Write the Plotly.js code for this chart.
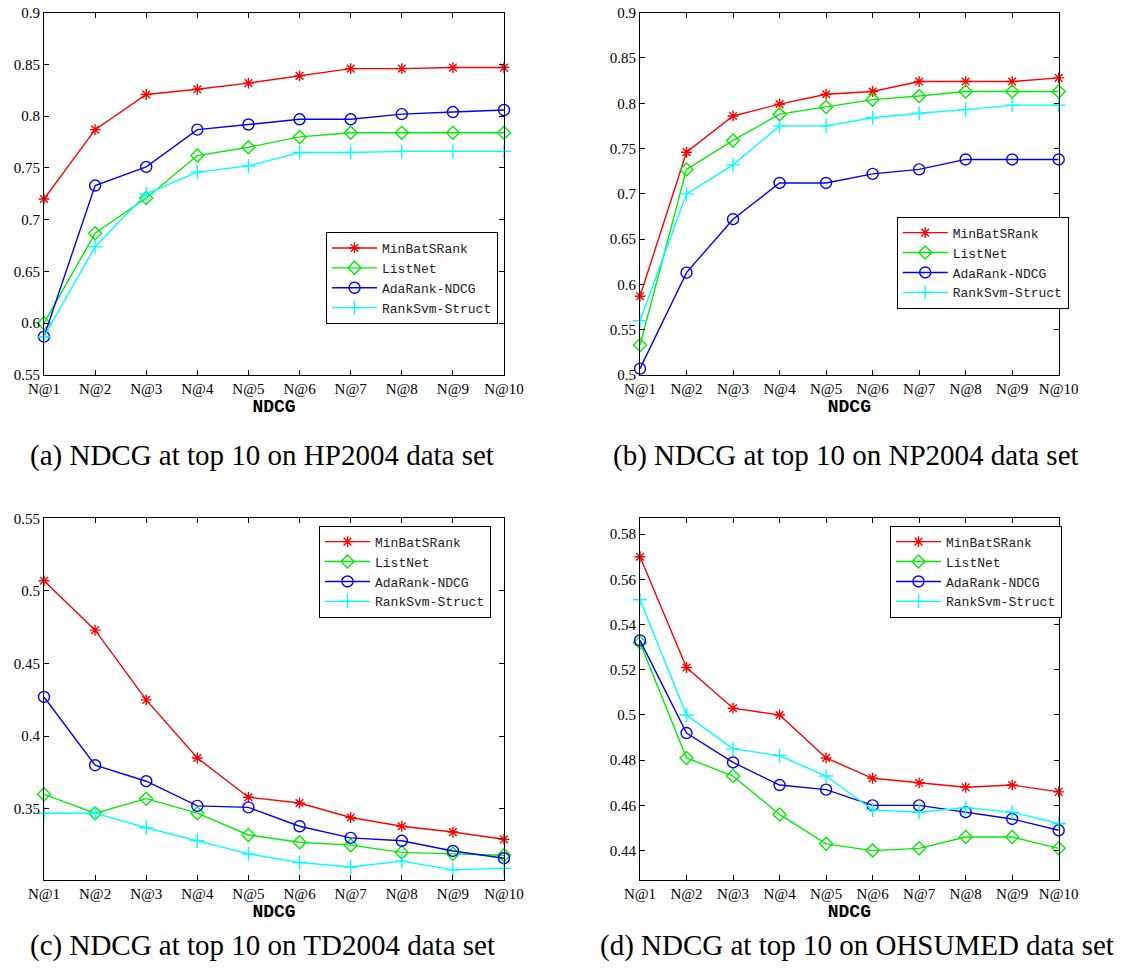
<!DOCTYPE html>
<html>
<head>
<meta charset="utf-8">
<script src="https://cdn.plot.ly/plotly-3.0.1.min.js"></script>
<style>html,body{margin:0;padding:0;background:#fff;}#chart{width:1134px;height:978px;}</style>
</head>
<body>
<div id="chart"></div>
<script>
// ---------- data ----------
const categories = ['N@1','N@2','N@3','N@4','N@5','N@6','N@7','N@8','N@9','N@10'];
const methods = ['MinBatSRank','ListNet','AdaRank-NDCG','RankSvm-Struct'];

// (a) HP2004
const hpMinBatSRank = [0.720,0.787,0.821,0.826,0.832,0.839,0.846,0.846,0.847,0.847];
const hpListNet     = [0.600,0.687,0.721,0.762,0.770,0.780,0.784,0.784,0.784,0.784];
const hpAdaRank     = [0.587,0.733,0.751,0.787,0.792,0.797,0.797,0.802,0.804,0.806];
const hpRankSvm     = [0.587,0.674,0.725,0.746,0.752,0.765,0.765,0.766,0.766,0.766];

// (b) NP2004
const npMinBatSRank = [0.587,0.746,0.786,0.799,0.810,0.813,0.824,0.824,0.824,0.828];
const npListNet     = [0.533,0.727,0.759,0.788,0.796,0.804,0.808,0.813,0.813,0.813];
const npAdaRank     = [0.507,0.613,0.672,0.712,0.712,0.722,0.727,0.738,0.738,0.738];
const npRankSvm     = [0.560,0.700,0.732,0.775,0.775,0.784,0.789,0.793,0.798,0.798];

// (c) TD2004
const tdMinBatSRank = [0.507,0.473,0.425,0.385,0.358,0.354,0.344,0.338,0.334,0.329];
const tdListNet     = [0.360,0.347,0.357,0.347,0.332,0.327,0.325,0.320,0.319,0.318];
const tdAdaRank     = [0.427,0.380,0.369,0.352,0.351,0.338,0.330,0.328,0.321,0.316];
const tdRankSvm     = [0.347,0.347,0.337,0.328,0.319,0.313,0.310,0.314,0.308,0.309];

// (d) OHSUMED
const ohMinBatSRank = [0.570,0.521,0.503,0.500,0.481,0.472,0.470,0.468,0.469,0.466];
const ohListNet     = [0.532,0.481,0.473,0.456,0.443,0.440,0.441,0.446,0.446,0.441];
const ohAdaRank     = [0.533,0.492,0.479,0.469,0.467,0.460,0.460,0.457,0.454,0.449];
const ohRankSvm     = [0.551,0.500,0.485,0.482,0.473,0.458,0.457,0.459,0.457,0.452];

// tick labels
const ticksA = [0.55,0.6,0.65,0.7,0.75,0.8,0.85,0.9];
const tickTextA = ['0.55','0.6','0.65','0.7','0.75','0.8','0.85','0.9'];
const ticksB = [0.5,0.55,0.6,0.65,0.7,0.75,0.8,0.85,0.9];
const tickTextB = ['0.5','0.55','0.6','0.65','0.7','0.75','0.8','0.85','0.9'];
const ticksC = [0.35,0.4,0.45,0.5,0.55];
const tickTextC = ['0.35','0.4','0.45','0.5','0.55'];
const ticksD = [0.44,0.46,0.48,0.5,0.52,0.54,0.56,0.58];
const tickTextD = ['0.44','0.46','0.48','0.5','0.52','0.54','0.56','0.58'];

const xTitle = 'NDCG';
const captions = [
  '(a) NDCG at top 10 on HP2004 data set',
  '(b) NDCG at top 10 on NP2004 data set',
  '(c) NDCG at top 10 on TD2004 data set',
  '(d) NDCG at top 10 on OHSUMED data set'
];

// ---------- styles ----------
const SERIF = 'Liberation Serif';
const MONO = 'Liberation Mono';
const styles = [
  {color:'#ff0000', symbol:'asterisk-open', size:9},
  {color:'#00ee00', symbol:'diamond-open', size:10},
  {color:'#0000ff', symbol:'circle-open', size:11},
  {color:'#00ffff', symbol:'cross-thin-open', size:10}
];

const panels = [
  {series:[hpMinBatSRank,hpListNet,hpAdaRank,hpRankSvm], xa:'x', ya:'y', legend:'legend'},
  {series:[npMinBatSRank,npListNet,npAdaRank,npRankSvm], xa:'x2', ya:'y2', legend:'legend2'},
  {series:[tdMinBatSRank,tdListNet,tdAdaRank,tdRankSvm], xa:'x3', ya:'y3', legend:'legend3'},
  {series:[ohMinBatSRank,ohListNet,ohAdaRank,ohRankSvm], xa:'x4', ya:'y4', legend:'legend4'}
];

const traces = [];
panels.forEach(p => {
  p.series.forEach((vals, i) => {
    const s = styles[i];
    traces.push({
      type:'scatter', mode:'lines+markers',
      x: categories, y: vals, name: methods[i],
      xaxis: p.xa, yaxis: p.ya, legend: p.legend,
      cliponaxis: false,
      line: {color: s.color, width: 1.4},
      marker: {symbol: s.symbol, size: s.size, color: s.color, line: {color: s.color, width: 1.4}}
    });
  });
});

const tickFont = {family: SERIF, size:15, color:'#000'};
function xAx(domain, anchor) {
  return {
    domain: domain, anchor: anchor, type:'category', range:[0,9],
    showline:true, linecolor:'#000', linewidth:1, mirror:'ticks',
    ticks:'inside', ticklen:5, tickcolor:'#000', showgrid:false, zeroline:false,
    tickfont: tickFont, automargin:false,
    title: {text: xTitle, standoff: 3, font:{family: MONO, size:18, color:'#000', weight:'bold'}}
  };
}
function yAx(domain, anchor, range, vals, text) {
  return {
    domain: domain, anchor: anchor, range: range,
    tickvals: vals, ticktext: text,
    showline:true, linecolor:'#000', linewidth:1, mirror:'ticks',
    ticks:'inside', ticklen:5, tickcolor:'#000', showgrid:false, zeroline:false,
    tickfont: tickFont, automargin:false
  };
}

const W = 1134, H = 978;
const dLeft = [44/W, 504/W], dRight = [640/W, 1058.7/W];
const dTop = [1-375/H, 1-12.7/H], dBot = [1-880/H, 1-518.3/H];

function leg(x, y) {
  return {
    x: x, y: y, xref:'paper', yref:'paper', xanchor:'left', yanchor:'top',
    bgcolor:'#fff', bordercolor:'#000', borderwidth:1,
    font:{family: MONO, size:13, color:'#222'},
    itemwidth: 45, tracegroupgap: 0
  };
}

const capFont = {family: SERIF, size:29, color:'#000'};
const layout = {
  width: W, height: H,
  margin: {l:0, r:0, t:0, b:0},
  paper_bgcolor:'#fff', plot_bgcolor:'#fff',
  showlegend: true,
  xaxis: xAx(dLeft, 'y'),
  yaxis: yAx(dTop, 'x', [0.55,0.9], ticksA, tickTextA),
  xaxis2: xAx(dRight, 'y2'),
  yaxis2: yAx(dTop, 'x2', [0.5,0.9], ticksB, tickTextB),
  xaxis3: xAx(dLeft, 'y3'),
  yaxis3: yAx(dBot, 'x3', [0.301,0.55], ticksC, tickTextC),
  xaxis4: xAx(dRight, 'y4'),
  yaxis4: yAx(dBot, 'x4', [0.427,0.587], ticksD, tickTextD),
  legend: leg(326/W, 1-232/H),
  legend2: leg(896.7/W, 1-216.7/H),
  legend3: leg(319/W, 1-525.7/H),
  legend4: leg(890/W, 1-525.7/H),
  annotations: [
    {text: captions[0], x: 262/W, y: 1-455/H, xref:'paper', yref:'paper', showarrow:false, font: capFont, xanchor:'center', yanchor:'middle'},
    {text: captions[1], x: 846/W, y: 1-455/H, xref:'paper', yref:'paper', showarrow:false, font: capFont, xanchor:'center', yanchor:'middle'},
    {text: captions[2], x: 262/W, y: 1-945/H, xref:'paper', yref:'paper', showarrow:false, font: capFont, xanchor:'center', yanchor:'middle'},
    {text: captions[3], x: 857/W, y: 1-945/H, xref:'paper', yref:'paper', showarrow:false, font: capFont, xanchor:'center', yanchor:'middle'}
  ]
};

Plotly.newPlot('chart', traces, layout, {displayModeBar:false, staticPlot:true});
</script>
</body>
</html>
